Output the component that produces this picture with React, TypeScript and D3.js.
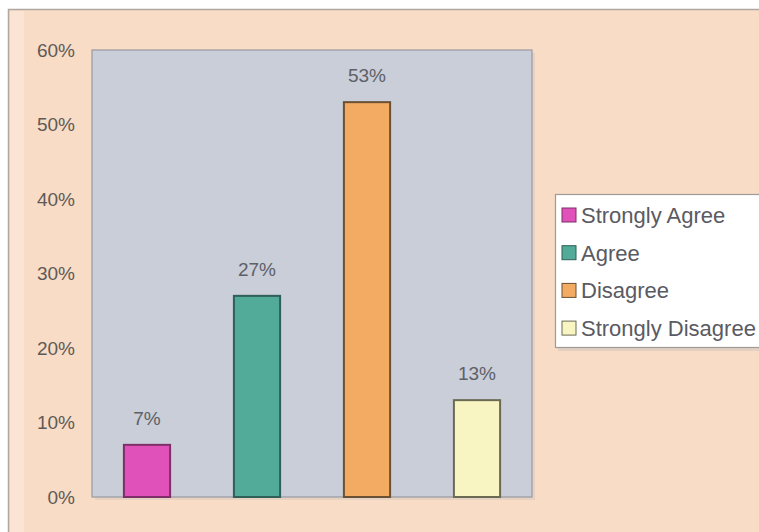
import React from 'react';
import * as d3 from 'd3';

// survey answers, percent of respondents
const categories = ['Strongly Agree', 'Agree', 'Disagree', 'Strongly Disagree'];
const values = [7, 27, 53, 13];
const fills = ['#e052b9', '#52aa99', '#f3aa62', '#f8f5c2'];
const strokes = ['#7d2f68', '#2f5f56', '#6a5034', '#6b6a52'];
const yTicks = [0, 10, 20, 30, 40, 50, 60];

const W = 759;
const H = 532;
const plot = { left: 92, top: 50, right: 532, bottom: 497 };
const font = '"Liberation Sans", Arial, sans-serif';

export default function App() {
  const x = d3.scaleBand()
    .domain(categories)
    .range([plot.left, plot.right])
    .paddingInner(0.58)
    .paddingOuter(0.29);

  const y = d3.scaleLinear()
    .domain([0, 60])
    .range([plot.bottom, plot.top]);

  const pct = (v: number) => `${v}%`;

  return (
    <svg width={W} height={H} style={{ position: 'absolute', left: 0, top: 0 }}>
      <rect x={0} y={0} width={W} height={H} fill="#ffffff" />
      {/* chart frame, right and bottom edges run off the picture */}
      <rect x={8.5} y={9.5} width={W + 20} height={H + 20} fill="#f8dcc6" stroke="#b0a8a0" strokeWidth={1.5} />
      <rect x={10} y={11} width={14} height={H} fill="#fbe4d3" />

      {/* plot area */}
      <rect x={plot.left + 3} y={plot.top + 3} width={plot.right - plot.left} height={plot.bottom - plot.top} fill="#d9cbc0" opacity={0.6} />
      <rect x={plot.left} y={plot.top} width={plot.right - plot.left} height={plot.bottom - plot.top} fill="#c9ced8" stroke="#9a9aa2" strokeWidth={1.2} />

      {yTicks.map(t => (
        <text key={t} x={75} y={y(t)} dy="0.35em" textAnchor="end" fontFamily={font} fontSize={19} fill="#5e5a58">
          {pct(t)}
        </text>
      ))}

      {categories.map((c, i) => (
        <g key={c}>
          <rect
            x={x(c)}
            y={y(values[i])}
            width={x.bandwidth()}
            height={y(0) - y(values[i])}
            fill={fills[i]}
            stroke={strokes[i]}
            strokeWidth={2}
          />
          <text
            x={(x(c) as number) + x.bandwidth() / 2}
            y={y(values[i]) - 20}
            textAnchor="middle"
            fontFamily={font}
            fontSize={19}
            fill="#5e6068"
          >
            {pct(values[i])}
          </text>
        </g>
      ))}

      {/* legend */}
      <rect x={558} y={197} width={220} height={154} fill="#e3d0c2" />
      <rect x={555.5} y={194.5} width={220} height={153} fill="#ffffff" stroke="#a09a96" strokeWidth={1.2} />
      {categories.map((c, i) => {
        const cy = 215 + i * 37.7;
        return (
          <g key={c}>
            <rect x={562} y={cy - 7} width={14} height={14} fill={fills[i]} stroke={strokes[i]} strokeWidth={1} />
            <text x={581} y={cy} dy="0.36em" fontFamily={font} fontSize={22} fill="#5a5a62">
              {c}
            </text>
          </g>
        );
      })}
    </svg>
  );
}
